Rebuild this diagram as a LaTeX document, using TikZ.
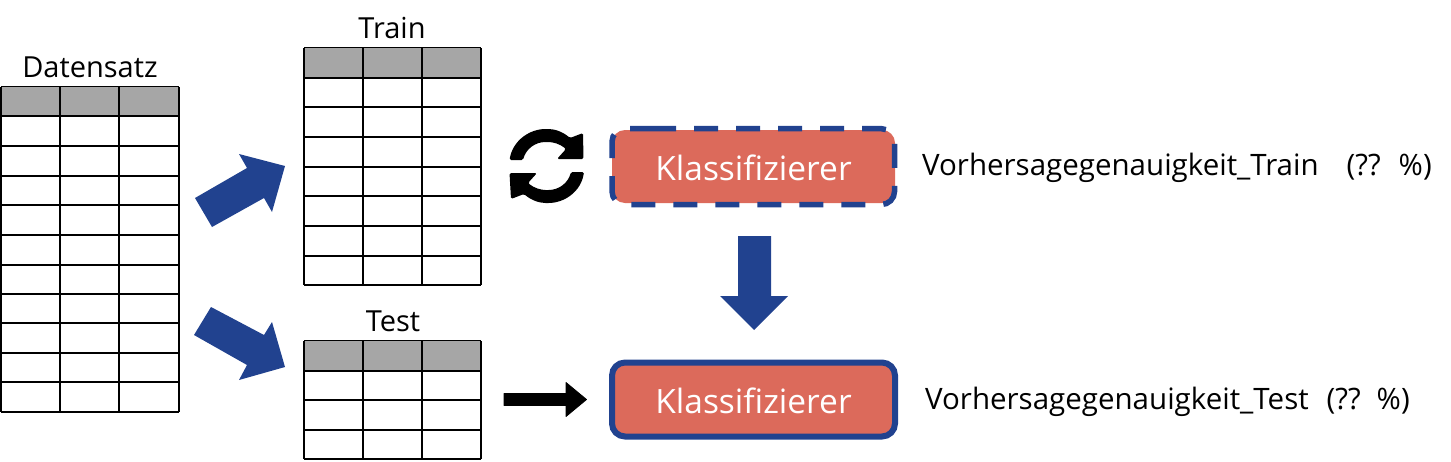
\documentclass[tikz,border=0pt]{standalone}
\usepackage{fontspec}
\setmainfont{Open Sans}
\definecolor{navyb}{HTML}{21428F}
\definecolor{redb}{HTML}{DC6A5B}
\definecolor{headg}{HTML}{A6A6A6}
\tikzset{
  lbl/.style={inner sep=0pt,font=\fontsize{29}{34}\selectfont,text=black},
  acc/.style={inner sep=0pt,anchor=west,text=black,font=\fontsize{29.5}{34}\selectfont},
  boxtxt/.style={inner sep=0pt,font=\fontsize{33.5}{38}\selectfont,text=white},
  clf/.style={fill=redb,rounded corners=13pt,minimum width=283pt,minimum height=74pt,inner sep=0pt,outer sep=0pt,anchor=center},
  tline/.style={draw=black,line width=2pt},
  blockarrow/.style={fill=navyb,draw=none},
  blackarrow/.style={fill=black,draw=black,line width=.8pt,line join=round},
  syncpiece/.style={fill=black,rounded corners=1.5pt}
}
\newcommand{\tabledraw}[4]{%
  \def\rowlist{#4}
  \foreach \ya [count=\i] in \rowlist {
    \ifnum\i=1 \xdef\ytop{\ya}\fi
    \ifnum\i=2 \fill[headg] (#1,\ytop) rectangle (#2,\ya);\fi
    \draw[tline] (#1,\ya) -- (#2,\ya);
    \xdef\ybot{\ya}
  }
  \foreach \xa in {#1,#3,#2} { \draw[tline,line cap=square] (\xa,\ytop) -- (\xa,\ybot); }
}
\begin{document}
\begin{tikzpicture}[x=1pt,y=-1pt]
\useasboundingbox (0,0) rectangle (1451,461);
\tabledraw{1}{179}{60,119}{87,116,146,176,205,235,265,294,323,353,382,412}
\tabledraw{304}{481}{363,422}{48,78,107,137,167,196,226,256,285}
\tabledraw{304}{481}{363,422}{341,371,400,430,459}
\node[lbl] (datensatz) at (90,67) {Datensatz};
\node[lbl] (train) at (392,28) {Train};
\node[lbl] (test) at (393,321) {Test};
% block arrows
\fill[blockarrow] (195,198) -- (247,168) -- (239,154) -- (285,166) -- (272,212) -- (264,198) -- (212,227) -- cycle;
\fill[blockarrow] (211,307) -- (264,335) -- (272,322) -- (285,367) -- (239,380) -- (247,365) -- (194,335) -- cycle;
\fill[blockarrow] (738,236) -- (771,236) -- (771,296) -- (788,296) -- (754,330) -- (720,296) -- (738,296) -- cycle;
\fill[blackarrow] (504,393.5) -- (566,393.5) -- (566,382.5) -- (586.5,399.5) -- (566,416.5) -- (566,405.5) -- (504,405.5) -- cycle;
% classifier boxes
\node[clf,minimum height=73pt] (k1bg) at (753.5,166.5) {};
\draw[navyb,line width=5.5pt,rounded corners=13pt,dash pattern=on 24pt off 18pt] (639,128.7) -- (894.5,128.7) -- (894.5,204.5) -- (612,204.5) -- (612,128.7) -- cycle;
\node[boxtxt] (k1) at (753.5,168) {Klassifizierer};
\node[clf,draw=navyb,line width=6pt] (k2) at (753.5,399.5) {};
\node[boxtxt] (k2t) at (753.5,400.5) {Klassifizierer};
% sync icon
\fill[syncpiece] (509.5,160) .. controls (513,140) and (530,129) .. (547,129) .. controls (555,129) and (563,132) .. (570,138) -- (583,133) -- (583.5,159) -- (557,159) -- (566,149) .. controls (560,144) and (553,142) .. (547,142) .. controls (535,142) and (526,149) .. (523,160) -- cycle;
\fill[syncpiece] (584,172) .. controls (581,192) and (564,203) .. (547,203) .. controls (539,203) and (531,200) .. (524,194) -- (511,199) -- (509.5,173) -- (537,173) -- (528,183) .. controls (534,188) and (541,190) .. (547,190) .. controls (559,190) and (568,183) .. (571,172) -- cycle;
\node[acc] (acc1) at (922,168) {Vorhersagegenauigkeit\_Train\hspace{28pt}(??\hspace{18pt}\%)};
\node[acc] (acc2) at (925,402) {Vorhersagegenauigkeit\_Test\hspace{18pt}(??\hspace{16pt}\%)};
\end{tikzpicture}
\end{document}
